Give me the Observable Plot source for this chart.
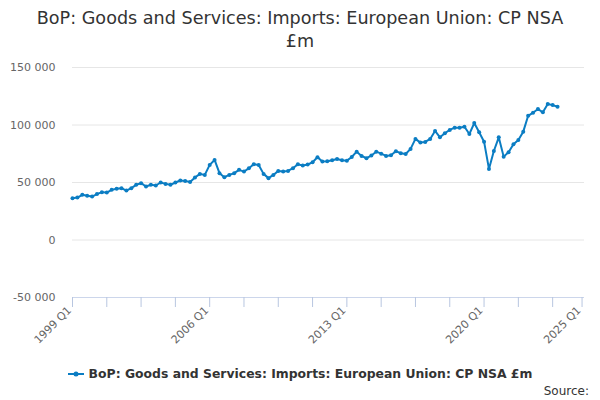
<!DOCTYPE html>
<html>
<head>
<meta charset="utf-8">
<script src="https://cdn.jsdelivr.net/npm/d3@7"></script>
<script src="https://cdn.jsdelivr.net/npm/@observablehq/plot@0.6"></script>
<style>
  body { margin: 0; width: 600px; height: 400px; overflow: hidden; background: #fff; font-family: "DejaVu Sans", sans-serif; }
  #title { height: 56px; box-sizing: border-box; padding-top: 7px; text-align: center; font-size: 17.6px; line-height: 23px; color: #333; }
  #legend { margin-top: 10px; height: 16px; line-height: 16px; text-align: center; font-size: 12.4px; font-weight: bold; color: #333; }
  #legend svg { vertical-align: middle; margin-right: 5px; position: relative; top: -1px; }
  #source { margin-top: 2px; text-align: right; padding-right: 11px; font-size: 12px; line-height: 14px; color: #333; }
</style>
</head>
<body>
<div id="title">BoP: Goods and Services: Imports: European Union: CP NSA<br>£m</div>
<div id="chart"></div>
<div id="legend"><svg width="16" height="10"><line x1="0" x2="16" y1="5" y2="5" stroke="#0b7dc3" stroke-width="2"></line><circle cx="8" cy="5" r="2.5" fill="#0b7dc3"></circle></svg>BoP: Goods and Services: Imports: European Union: CP NSA £m</div>
<div id="source">Source:</div>
<script>
// quarterly, 1999 Q1 .. 2023 Q4, £m
const startYear = 1999
const values = [
  36400, 36900, 39300, 38400, 37800, 39900, 41600, 41300, 43600, 44500,
  45100, 43000, 45100, 48000, 49400, 46500, 48000, 47400, 50000, 48800,
  48000, 50000, 51700, 51400, 50500, 54300, 57500, 56600, 65300, 69600,
  58100, 54600, 56600, 58100, 61000, 59500, 62400, 65900, 65300, 57500,
  53800, 56600, 60100, 59500, 60100, 62400, 65900, 64700, 65600, 67600,
  72000, 68200, 68500, 69400, 70500, 69400, 69000, 72200, 76800, 73100,
  71100, 73400, 76800, 75100, 73100, 73700, 77200, 75500, 74800, 79200,
  87900, 84700, 85300, 87900, 94800, 89300, 92800, 95700, 97700, 97700,
  98500, 92200, 101700, 93700, 85500, 61800, 77400, 89300, 72500, 76300,
  83200, 87000, 94200, 108000, 110700, 113900, 111000, 118200, 117300, 115900
]
const quarterName = i => `${startYear + Math.floor(i / 4)} Q${i % 4 + 1}`
const quarters = values.map((v, i) => quarterName(i))

const yTicks = [-50000, 0, 50000, 100000, 150000]
const xTicks = [0, 7, 14, 21, 28, 35, 42, 49, 56, 63, 70, 77, 84, 91, 98, 104]
const xLabels = [0, 28, 56, 84, 104]

const rows = values.map((v, i) => ({i, quarter: quarters[i], value: v}))
const blue = "#0b7dc3"
const fmt = d => d3.format(",")(d).replace(/,/g, " ").replace("−", "-")

let chart = Plot.plot({
  width: 600,
  height: 300,
  marginTop: 11,
  marginBottom: 59,
  marginLeft: 72,
  marginRight: 16,
  x: {domain: [0, 104.5], axis: null},
  y: {domain: [-50000, 150000], axis: null},
  marks: [
    Plot.gridY(yTicks, {stroke: "#e6e6e6", strokeOpacity: 1}),
    Plot.axisY(yTicks, {tickSize: 0, tickPadding: 17, tickFormat: fmt, fontSize: 11, fill: "#666", label: null}),
    Plot.ruleY([-50000], {stroke: "#ccd6eb"}),
    Plot.axisX(xTicks, {tickSize: 10, stroke: "#b8c6e0", strokeOpacity: 1, fill: "none", label: null}),
    Plot.axisX(xLabels, {tickSize: 0, tickPadding: 11, dx: -3, tickRotate: -45, tickFormat: quarterName, fontSize: 11, fill: "#666", label: null}),
    Plot.lineY(rows, {x: "i", y: "value", stroke: blue, strokeWidth: 2}),
    Plot.dot(rows, {x: "i", y: "value", r: 2, fill: blue})
  ],
  style: {
    background: "#ffffff",
    color: "#666",
    fontFamily: "DejaVu Sans"
  }
})
d3.select("#chart").append(() => chart)
</script>
</body>
</html>
